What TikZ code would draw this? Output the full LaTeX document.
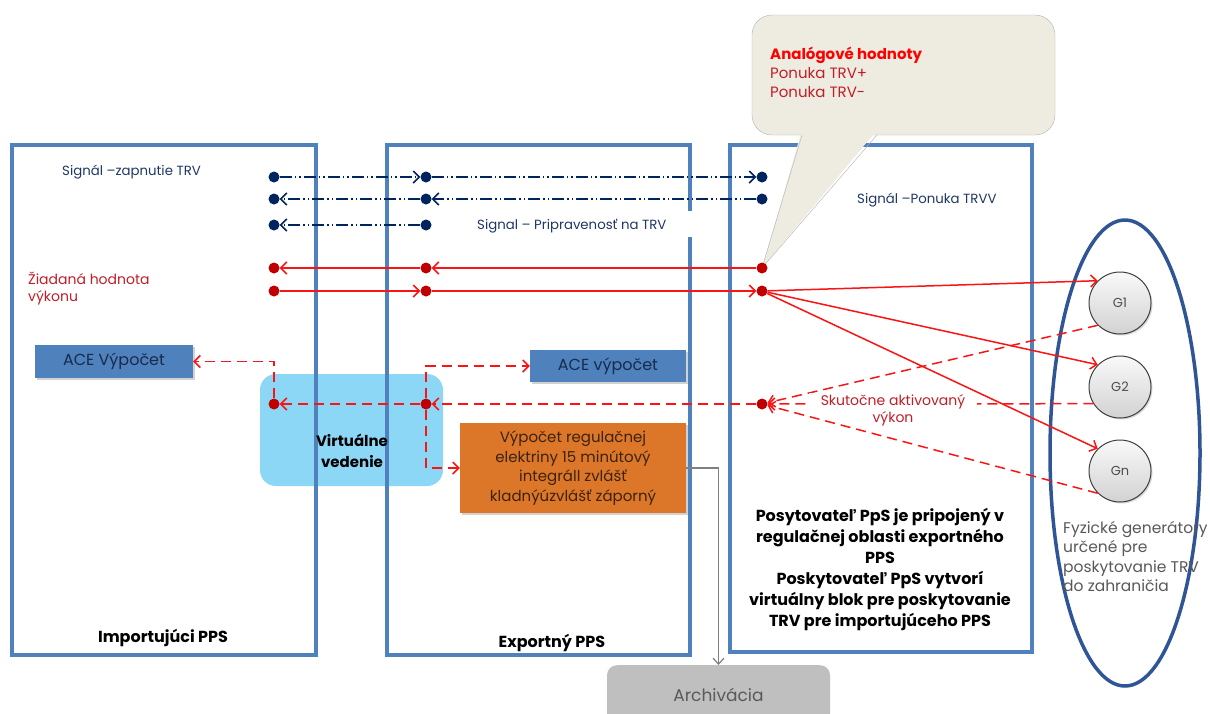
\documentclass[tikz,border=0pt]{standalone}
\usepackage{fontspec}
\setmainfont{Poppins}
\usepackage{xcolor}
\usetikzlibrary{arrows.meta, positioning, calc, fit, shapes.geometric, shadows, backgrounds}

\definecolor{frameblue}{RGB}{79,129,189}
\definecolor{sigblue}{RGB}{0,36,94}
\definecolor{sigtext}{RGB}{31,56,100}
\definecolor{dotred}{RGB}{192,0,0}
\definecolor{linered}{RGB}{250,20,20}
\definecolor{txtred}{RGB}{192,30,40}
\definecolor{ellblue}{RGB}{47,85,151}
\definecolor{acetext}{RGB}{23,43,77}
\definecolor{orangefill}{RGB}{220,118,40}
\definecolor{orangetext}{RGB}{60,35,15}
\definecolor{virtfill}{RGB}{140,214,246}
\definecolor{callfill}{RGB}{238,236,225}
\definecolor{archfill}{RGB}{191,191,191}

\begin{document}
\begin{tikzpicture}[x=1pt, y=-1pt,
  frame/.style={draw=frameblue, line width=3.5pt},
  sdot/.style={circle, fill=sigblue, inner sep=0pt, minimum size=11pt},
  rdot/.style={circle, fill=dotred, inner sep=0pt, minimum size=11pt},
  tip/.style={-{Straight Barb[length=6pt, width=12pt]}},
  sig/.style={tip, draw=sigblue, line width=1.5pt, dash pattern=on 12pt off 3pt on 1.5pt off 3pt on 1.5pt off 3pt},
  req/.style={tip, draw=linered, line width=1.5pt},
  act/.style={tip, draw=linered, line width=1.5pt, dash pattern=on 10pt off 6pt},
  calcbox/.style={inner sep=0pt, drop shadow={shadow xshift=2pt, shadow yshift=-2pt, opacity=0.35}},
  gen/.style={circle, draw=black!75, line width=1pt, minimum size=62pt, inner sep=0pt,
    top color=gray!5, bottom color=gray!35, text=black!70, font=\fontsize{13}{15}\selectfont,
    drop shadow={shadow xshift=1.5pt, shadow yshift=-1.5pt, opacity=0.3}},
  sigtxt/.style={text=sigtext, inner sep=0pt, font=\fontsize{13.3}{16}\selectfont},
  boldtxt/.style={inner sep=0pt, align=center, font=\bfseries\fontsize{16}{21}\selectfont}
]
\path[use as bounding box] (0,0) rectangle (1210,713);

% signal dots
\foreach \r/\y in {1/177, 2/199, 3/225} {
  \node[sdot] (a\r) at (274,\y) {};
  \node[sdot] (b\r) at (426,\y) {};
}
\node[sdot] (c1) at (762,177) {};
\node[sdot] (c2) at (762,199) {};
\foreach \r/\y in {4/268, 5/291, 6/404} {
  \node[rdot] (a\r) at (274,\y) {};
  \node[rdot] (b\r) at (426,\y) {};
  \node[rdot] (c\r) at (762,\y) {};
}

\begin{scope}[on background layer]
  \fill[white] (0,0) rectangle (1210,713);
  \node[fill=virtfill, rounded corners=16pt, minimum width=183pt, minimum height=112pt] (virt) at (351.5,430) {};
  \draw[frame] (12,145) rectangle (316,655);
  \draw[frame] (690,211) -- (690,145) -- (387,145) -- (387,655) -- (690,655) -- (690,237);
  \draw[frame] (730,145) rectangle (1032,652);
  \node[fill=callfill, draw=gray!60, rounded corners=20pt, minimum width=303pt, minimum height=120pt] (call) at (903.5,75) {};
  \fill[callfill] (802,130) -- (c4.center) -- (877,130) -- cycle;
  \draw[gray!60] (802,135) -- (c4.center) -- (877,135);
\end{scope}

% generators
\node[ellipse, draw=ellblue, line width=3.5pt, minimum width=150pt, minimum height=466pt, inner sep=0pt] (grp) at (1125,453) {};
\node[gen] (g1) at (1120,303) {G1};
\node[gen] (g2) at (1120,387) {G2};
\node[gen] (gn) at (1120,471) {Gn};

% calculation boxes
\node[calcbox, fill=frameblue, minimum width=158pt, minimum height=33pt, text=acetext, font=\fontsize{16}{18}\selectfont] (ace1) at (114,361.5) {ACE Výpočet};
\node[calcbox, fill=frameblue, minimum width=156pt, minimum height=32pt, text=acetext, font=\fontsize{16}{18}\selectfont] (ace2) at (608,366) {ACE výpočet};
\node[calcbox, fill=orangefill, minimum width=226pt, minimum height=90pt, text=orangetext, align=center, font=\fontsize{15}{19.5}\selectfont] (reg) at (573,468)
  {Výpočet regulačnej\\elektriny 15 minútový\\integráll zvlášť\\kladnýúzvlášť záporný};
\node[fill=archfill, rounded corners=10pt, minimum width=223pt, minimum height=60pt, anchor=north, text=black!65, font=\fontsize{17}{20}\selectfont] (arch) at (718.5,665) {Archivácia};

% texts
\node[sigtxt, anchor=west] (tzap) at (62,172) {Signál –zapnutie TRV};
\node[sigtxt, anchor=west] (tprip) at (477,226) {Signal – Pripravenosť na TRV};
\node[sigtxt, anchor=west] (tpon) at (857,200) {Signál –Ponuka TRVV};
\node[text=txtred, anchor=north west, align=left, inner sep=0pt, font=\fontsize{14}{17}\selectfont] (tziad) at (28,272) {Žiadaná hodnota\\výkonu};
\node[anchor=north west, align=left, inner sep=0pt, text=txtred, font=\fontsize{15}{19}\selectfont] (tcall) at (770,47)
  {\textbf{\color{red}Analógové hodnoty}\\Ponuka TRV+\\Ponuka TRV-};
\node[boldtxt, font=\bfseries\fontsize{15}{21}\selectfont] (tvirt) at (352,451) {Virtuálne\\vedenie};
\node[boldtxt] (timp) at (163,638) {Importujúci PPS};
\node[boldtxt] (texp) at (552,643) {Exportný PPS};
\node[boldtxt] (tpos) at (880,569)
  {Posytovateľ PpS je pripojený v\\regulačnej oblasti exportného\\PPS\\Poskytovateľ PpS vytvorí\\virtuálny blok pre poskytovanie\\TRV pre importujúceho PPS};
\node[anchor=north west, align=left, inner sep=0pt, text=black!65, font=\fontsize{15.5}{19.5}\selectfont] (tfyz) at (1063,521)
  {Fyzické generátory\\určené pre\\poskytovanie TRV\\do zahraničia};

% signal lines
\draw[sig] (a1) -- (b1);
\draw[sig] (b1) -- (c1);
\draw[sig] (c2) -- (b2);
\draw[sig] (b2) -- (a2);
\draw[sig] (b3) -- (a3);

% requested power
\draw[req] (c4) -- (b4);
\draw[req] (b4) -- (a4);
\draw[req] (a5) -- (b5);
\draw[req] (b5) -- (c5);
\draw[req] (c5) -- (g1.north west);
\draw[req] (c5) -- (g2.north west);
\draw[req] (c5) -- (gn.north west);

% activated power
\draw[act] (g1.south west) -- (c6);
\draw[act] (g2.212) -- (c6);
\node[fill=white, inner xsep=12pt, inner ysep=1pt, align=center, text=txtred, font=\fontsize{14}{17}\selectfont] (tsku) at (893,410) {Skutočne aktivovaný\\výkon};
\draw[act] (gn.south west) -- (c6);
\draw[act] (c6) -- (b6);
\draw[act] (b6) -- (a6);
\draw[act] (a6) |- (ace1.east);
\draw[act] (b6) |- (ace2.west);
\draw[act] (b6) |- (reg.west);

% archive
\draw[gray, line width=1.2pt, -{Straight Barb[length=6pt, width=11pt]}] (reg.east) -| (arch.north);
\end{tikzpicture}
\end{document}
